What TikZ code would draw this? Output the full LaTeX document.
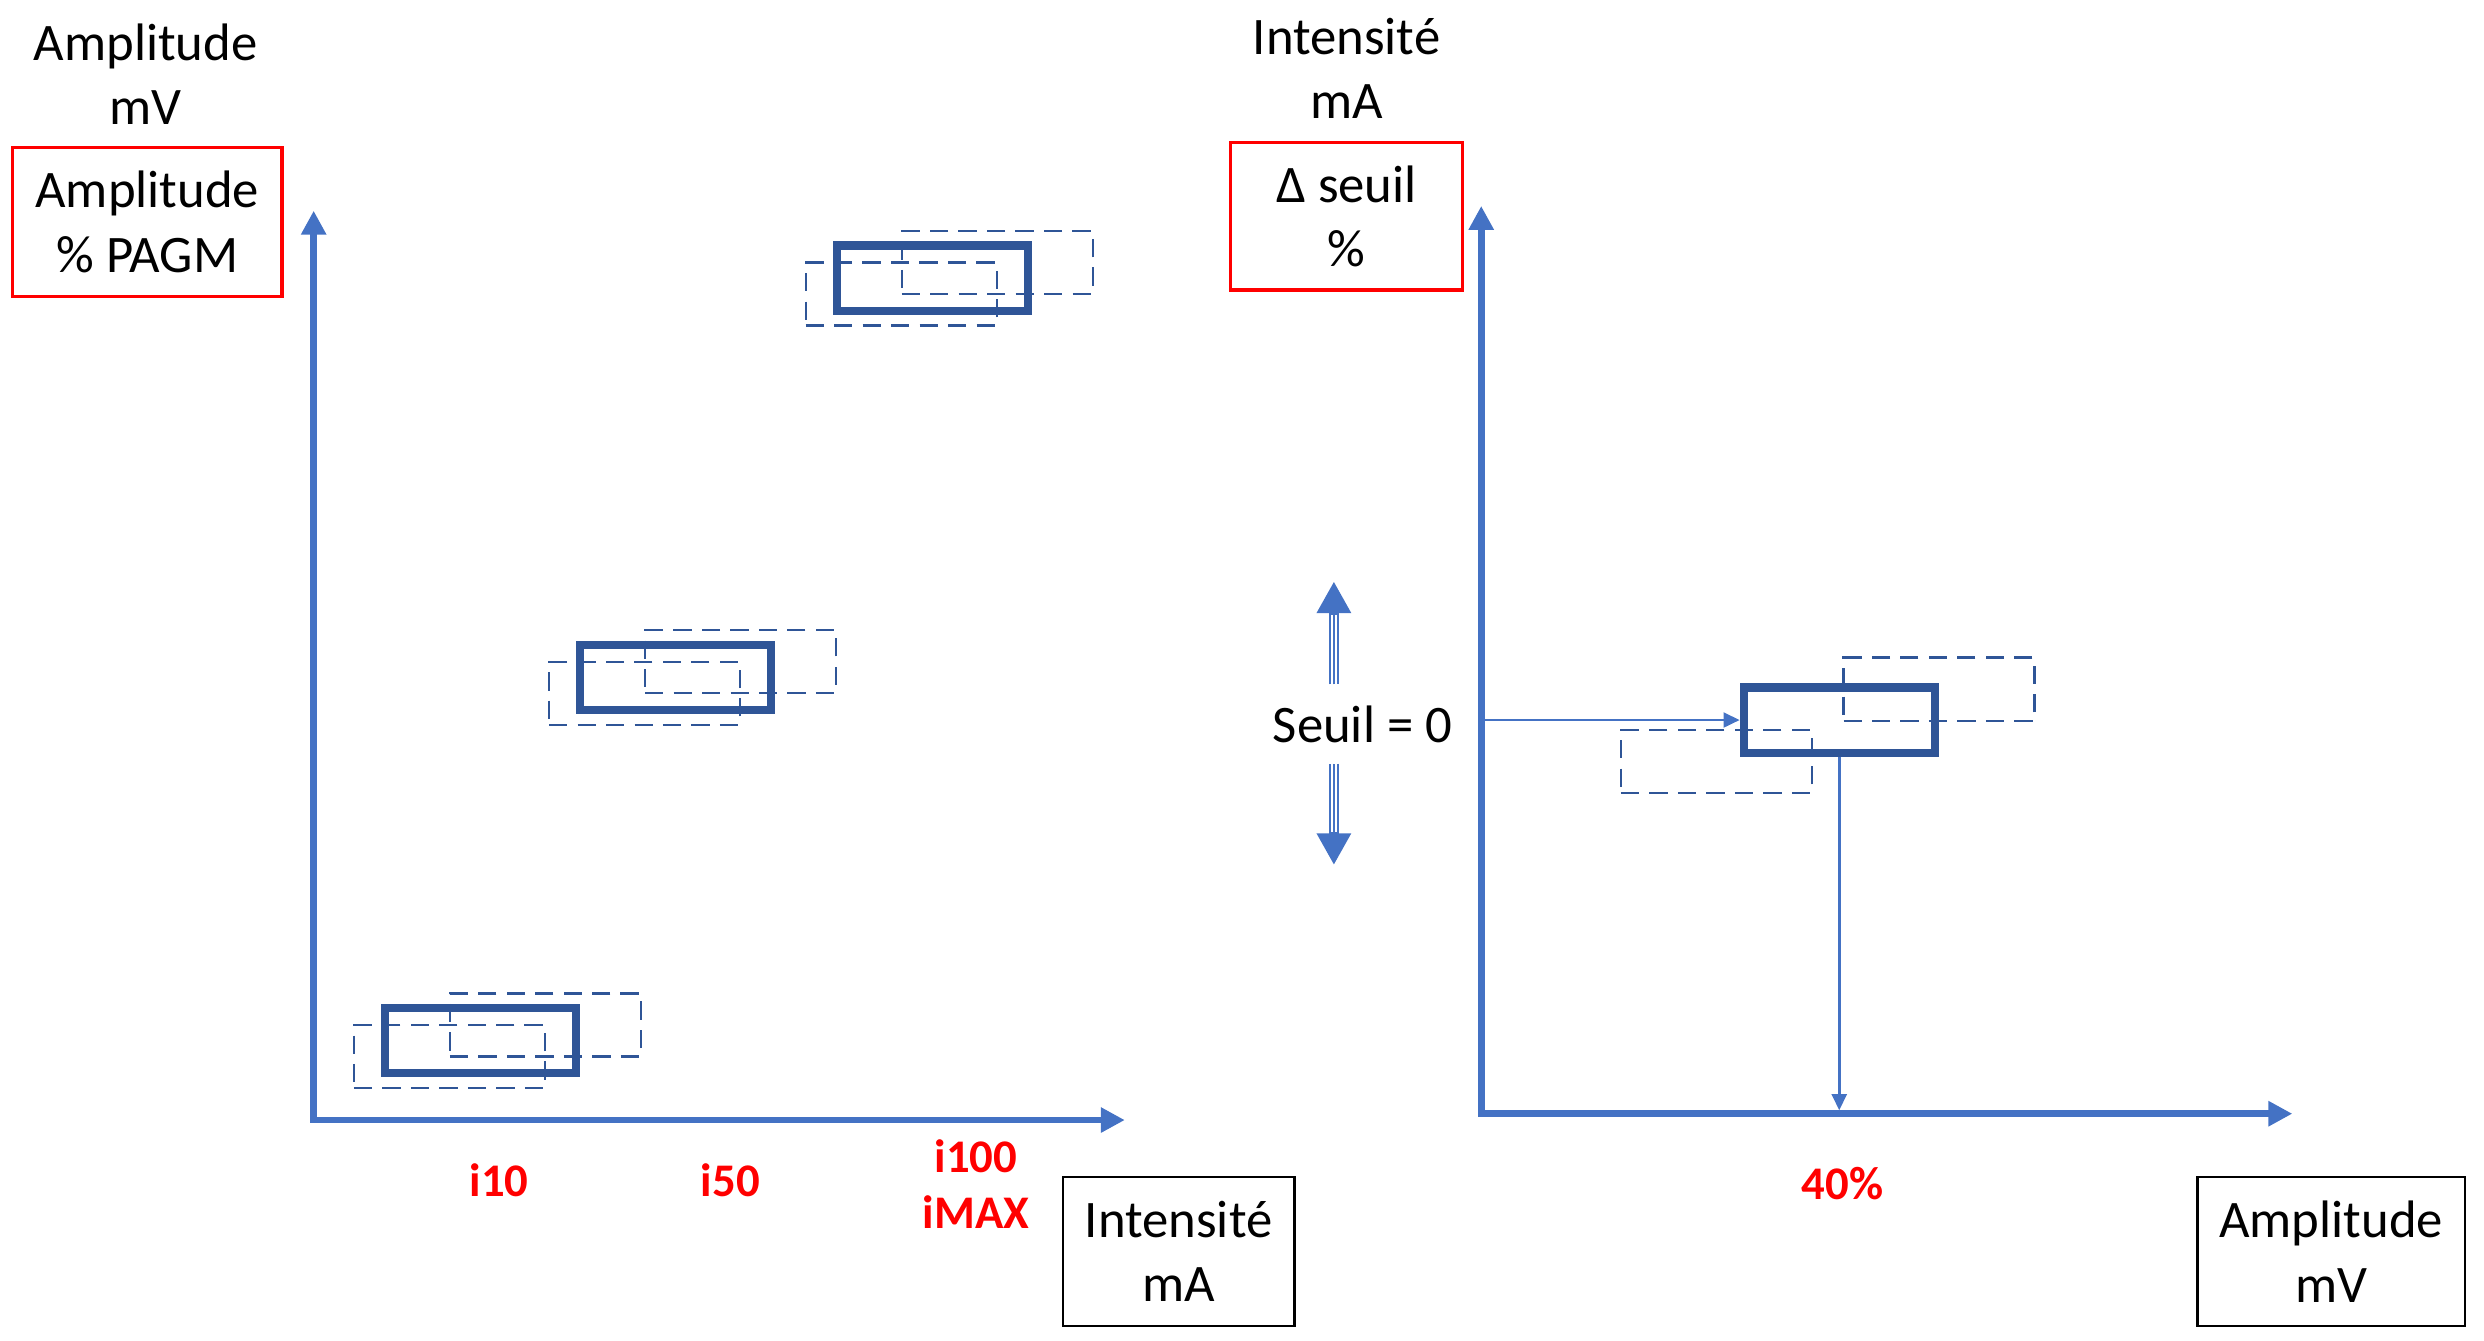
\documentclass[tikz,border=0pt]{standalone}
\usepackage{fontspec}
\setmainfont{Carlito}
\usetikzlibrary{arrows.meta}
\definecolor{axisblue}{HTML}{4472C4}
\definecolor{boxblue}{HTML}{2F5597}
\definecolor{lblred}{HTML}{FF0000}
\begin{document}
\begin{tikzpicture}[x=0.015842cm, y=-0.015842cm,
  axis/.style={draw=axisblue, line width=1.9pt, line cap=rect, -{Triangle[length=6.8pt,width=6.8pt]}},
  thinarrow/.style={draw=axisblue, line width=0.8pt, -{Triangle[length=4.6pt,width=4.2pt]}},
  seuilarrow/.style={draw=axisblue, fill=axisblue, line width=3pt, -{Triangle[length=9pt,width=9.2pt]}},
  gapline/.style={draw=white, line width=0.6pt},
  sbox/.style={draw=boxblue, line width=2.3pt, minimum width=1.91cm, minimum height=0.65cm, inner sep=0pt},
  dbox/.style={draw=boxblue, line width=0.65pt, dash pattern=on 5.2pt off 2.9pt, minimum width=1.91cm, minimum height=0.63cm, inner sep=0pt},
  lbl/.style={font=\fontsize{15}{18.3}\selectfont, align=center, inner sep=0pt},
  redbox/.style={lbl, draw=lblred, line width=0.9pt},
  blackbox/.style={lbl, draw=black, line width=0.8pt},
  redlbl/.style={font=\fontsize{13.3}{15.8}\selectfont\bfseries, text=lblred, align=center, inner sep=0pt}]
\useasboundingbox (0,0) rectangle (1568,846);

% ---------- left chart ----------
\coordinate (oL) at (198,707);
\coordinate (yL) at (198,133);
\coordinate (xL) at (710,707);
\draw[axis] (oL) -- (yL);
\draw[axis] (oL) -- (xL);

\foreach \n/\cx/\cy in {a/303.3/656.8, b/426.5/427.5, c/588.5/175.5} {
  \node[dbox] (\n-ll) at (\cx-19.6,\cy+10.1) {};
  \node[dbox] (\n-ur) at (\cx+41,\cy-9.8) {};
  \node[sbox] (\n-s) at (\cx,\cy) {};
}

\node[lbl] (ampL) at (92,47) {Amplitude\\mV};
\node[redbox, minimum width=2.693cm, minimum height=1.489cm] (pagm) at (93,140) {Amplitude\\\% PAGM};
\node[redlbl] (i10) at (315,745) {i10};
\node[redlbl] (i50) at (461,745) {i50};
\node[redlbl] (i100) at (616,747.5) {i100\\iMAX};
\node[blackbox, minimum width=2.313cm, minimum height=1.489cm] (intL) at (744,790) {Intensité\\mA};

% ---------- right chart ----------
\coordinate (oR) at (935,703);
\coordinate (yR) at (935,130);
\coordinate (xR) at (1447,703);
\draw[axis] (oR) -- (yR);
\draw[axis] (oR) -- (xR);

\node[dbox] (r-ll) at (1083.5,480.5) {};
\node[dbox] (r-ur) at (1224,435) {};
\node[sbox] (r) at (1161,454.5) {};

\draw[thinarrow] (oR |- r.west) -- (r.west);
\draw[thinarrow, shorten >=0.95pt] (r.south) -- (r.south |- oR);

\node[lbl] (intR) at (850,43) {Intensité\\mA};
\node[redbox, minimum width=2.313cm, minimum height=1.473cm] (dseuil) at (850,136.5) {Δ seuil\\\%};
\node[lbl] (seuil) at (860,457) {Seuil = 0};
\node[redlbl] (p40) at (1163,747) {40\%};
\node[blackbox, minimum width=2.677cm, minimum height=1.489cm] (ampR) at (1471.5,790) {Amplitude\\mV};

% seuil arrows
\coordinate (su0) at (842,432);
\coordinate (su1) at (842,367);
\coordinate (su2) at (842,388);
\coordinate (sd0) at (842,482);
\coordinate (sd1) at (842,546);
\coordinate (sd2) at (842,525);
\draw[seuilarrow] (su0) -- (su1);
\draw[seuilarrow] (sd0) -- (sd1);
\draw[gapline] ([xshift=-0.6pt]su0) -- ([xshift=-0.6pt]su2);
\draw[gapline] ([xshift=0.6pt]su0) -- ([xshift=0.6pt]su2);
\draw[gapline] ([xshift=-0.6pt]sd0) -- ([xshift=-0.6pt]sd2);
\draw[gapline] ([xshift=0.6pt]sd0) -- ([xshift=0.6pt]sd2);
\end{tikzpicture}
\end{document}
